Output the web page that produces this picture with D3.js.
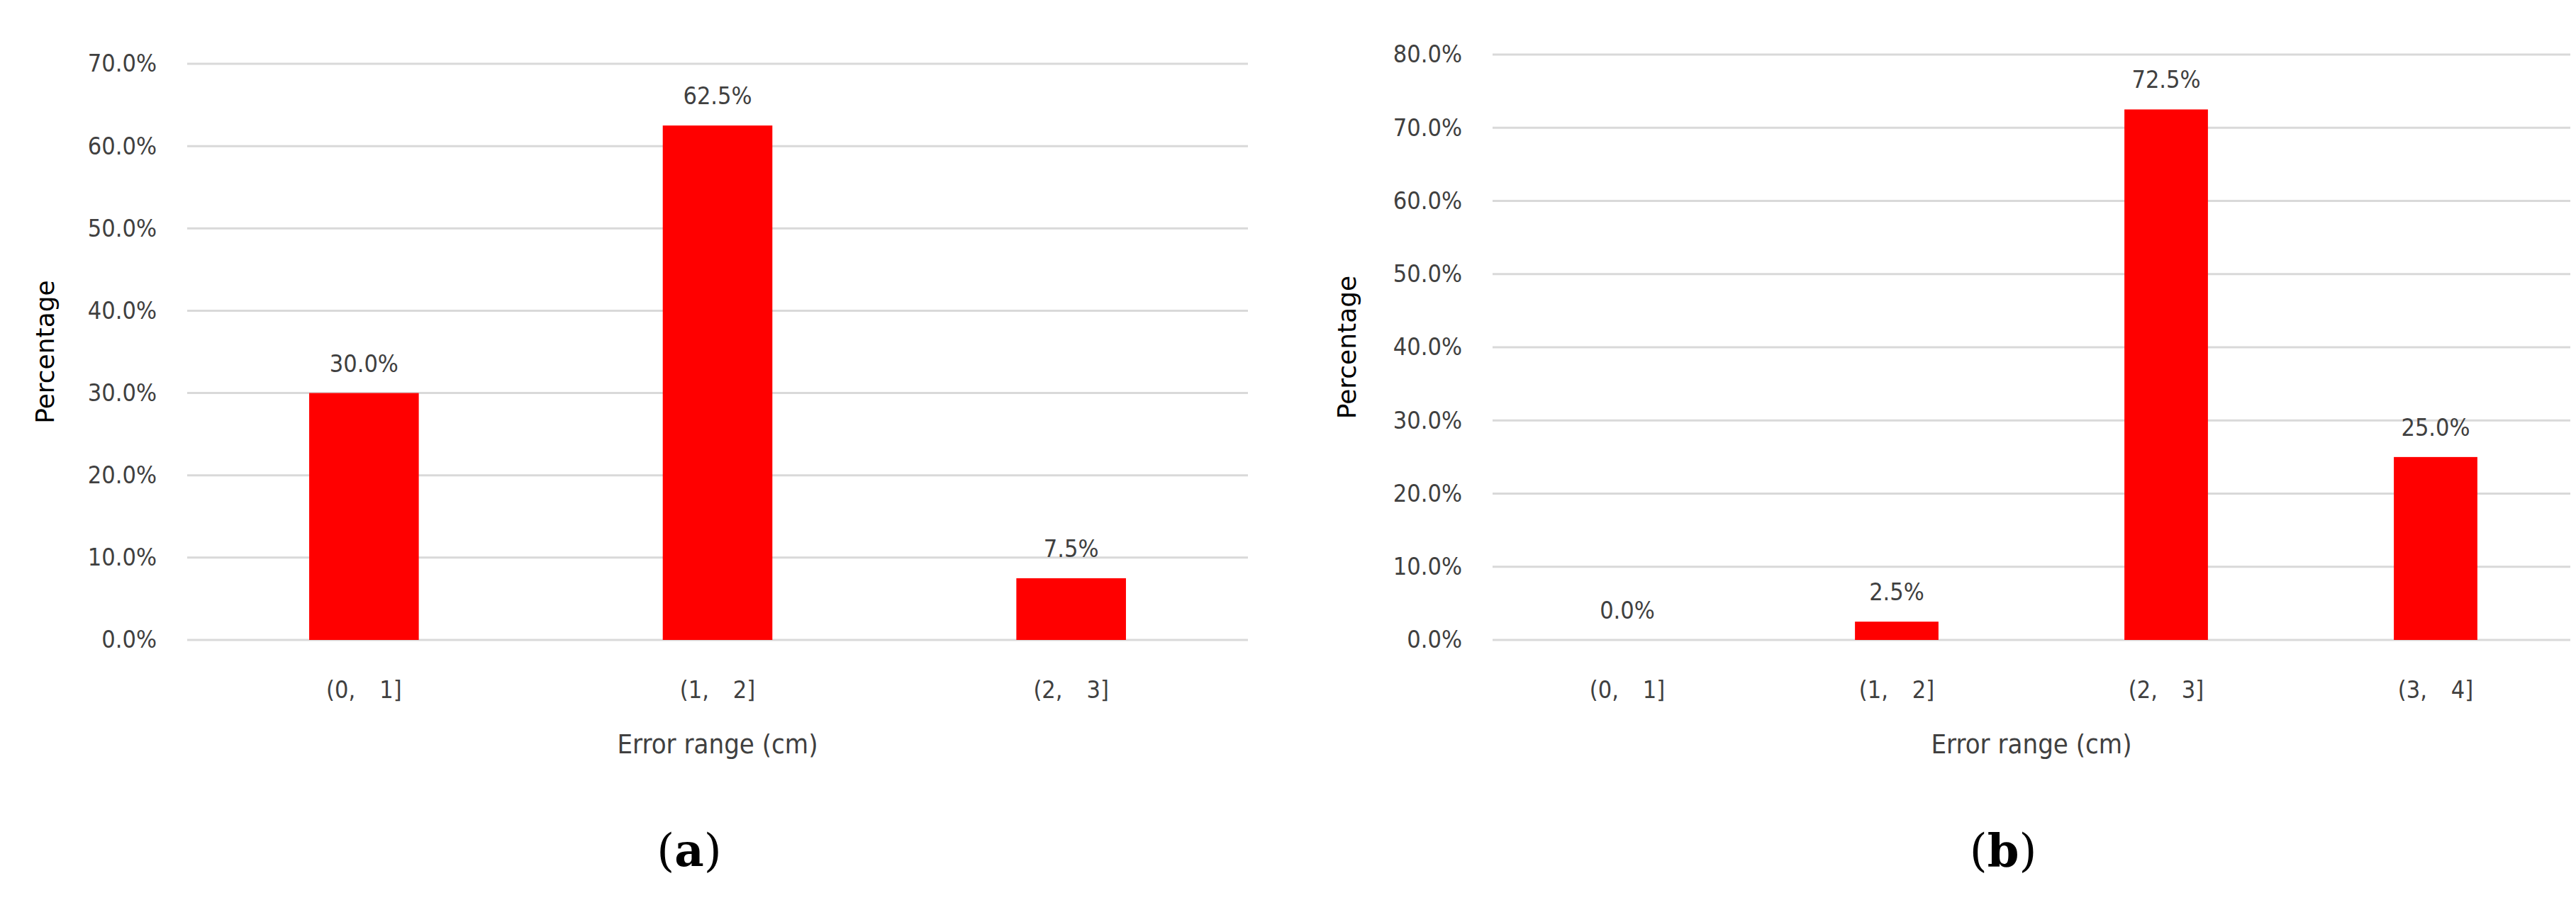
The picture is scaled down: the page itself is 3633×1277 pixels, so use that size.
<!DOCTYPE html>
<html><head><meta charset="utf-8">
<script src="https://cdn.jsdelivr.net/npm/d3@7"></script>
<style>body{margin:0;background:#fff}</style>
</head><body>
<script>
// data
const catsA = ["(0,\u30001]", "(1,\u30002]", "(2,\u30003]"];
const valsA = [30.0, 62.5, 7.5];
const ticksA = [0, 10, 20, 30, 40, 50, 60, 70];
const catsB = ["(0,\u30001]", "(1,\u30002]", "(2,\u30003]", "(3,\u30004]"];
const valsB = [0.0, 2.5, 72.5, 25.0];
const ticksB = [0, 10, 20, 30, 40, 50, 60, 70, 80];

const svg = d3.select("body").append("svg").attr("width", 3633).attr("height", 1277);
const lblFont = "'DejaVu Sans Condensed', 'DejaVu Sans', sans-serif";

function panel(cats, vals, ticks, box, tag) {
  var x = d3.scaleBand().domain(cats).range([box.x0, box.x1]).paddingInner(box.pad).paddingOuter(box.pad / 2);
  var y = d3.scaleLinear().domain([0, d3.max(ticks)]).range([box.y0, box.y1]);
  var g = svg.append("g");

  // gridlines
  g.selectAll("line.grid").data(ticks).enter().append("line")
    .attr("x1", box.x0).attr("x2", box.x1)
    .attr("y1", d => y(d)).attr("y2", d => y(d))
    .attr("stroke", "#d9d9d9").attr("stroke-width", 3);

  // y axis
  var ya = g.append("g").attr("transform", "translate(" + (box.x0 - 40) + ",0)")
    .call(d3.axisLeft(y).tickValues(ticks).tickSize(0).tickFormat(d => d.toFixed(1) + "%"));
  ya.select(".domain").remove();
  ya.selectAll("text").attr("font-family", lblFont).attr("font-size", 34).attr("fill", "#404040");

  // x axis
  var xa = g.append("g").attr("transform", "translate(0," + box.y0 + ")")
    .call(d3.axisBottom(x).tickSize(0).tickPadding(58));
  xa.select(".domain").remove();
  xa.selectAll("text").attr("font-family", lblFont).attr("font-size", 34).attr("fill", "#404040");

  // bars
  g.selectAll("rect.bar").data(vals).enter().append("rect")
    .attr("x", (d, i) => x(cats[i])).attr("width", x.bandwidth())
    .attr("y", d => y(d)).attr("height", d => box.y0 - y(d))
    .attr("fill", "#ff0000");

  // value labels
  g.selectAll("text.val").data(vals).enter().append("text")
    .attr("x", (d, i) => x(cats[i]) + x.bandwidth() / 2)
    .attr("y", d => y(d) - 30)
    .attr("text-anchor", "middle").attr("font-family", lblFont).attr("font-size", 34).attr("fill", "#404040")
    .text(d => d.toFixed(1) + "%");

  // axis titles
  g.append("text").attr("transform", "translate(" + box.ylx + "," + ((box.y0 + box.y1) / 2) + ") rotate(-90)")
    .attr("text-anchor", "middle").attr("font-family", "'DejaVu Sans', sans-serif").attr("font-size", 36).attr("fill", "#000")
    .text("Percentage");
  g.append("text").attr("x", (box.x0 + box.x1) / 2).attr("y", box.y0 + 160)
    .attr("text-anchor", "middle").attr("font-family", lblFont).attr("font-size", 38).attr("fill", "#404040")
    .text("Error range (cm)");

  // panel tag
  var t = g.append("text").attr("x", (box.x0 + box.x1) / 2 - 40).attr("y", 1222)
    .attr("text-anchor", "middle").attr("font-family", "'DejaVu Serif', serif").attr("font-size", 64);
  t.append("tspan").text("(");
  t.append("tspan").attr("font-weight", "bold").text(tag);
  t.append("tspan").text(")");
}

panel(catsA, valsA, ticksA, {x0: 264, x1: 1760, y0: 903, y1: 90, pad: 0.69, ylx: 76}, "a");
panel(catsB, valsB, ticksB, {x0: 2105, x1: 3625, y0: 903, y1: 77, pad: 0.69, ylx: 1912}, "b");
</script>
</body></html>
